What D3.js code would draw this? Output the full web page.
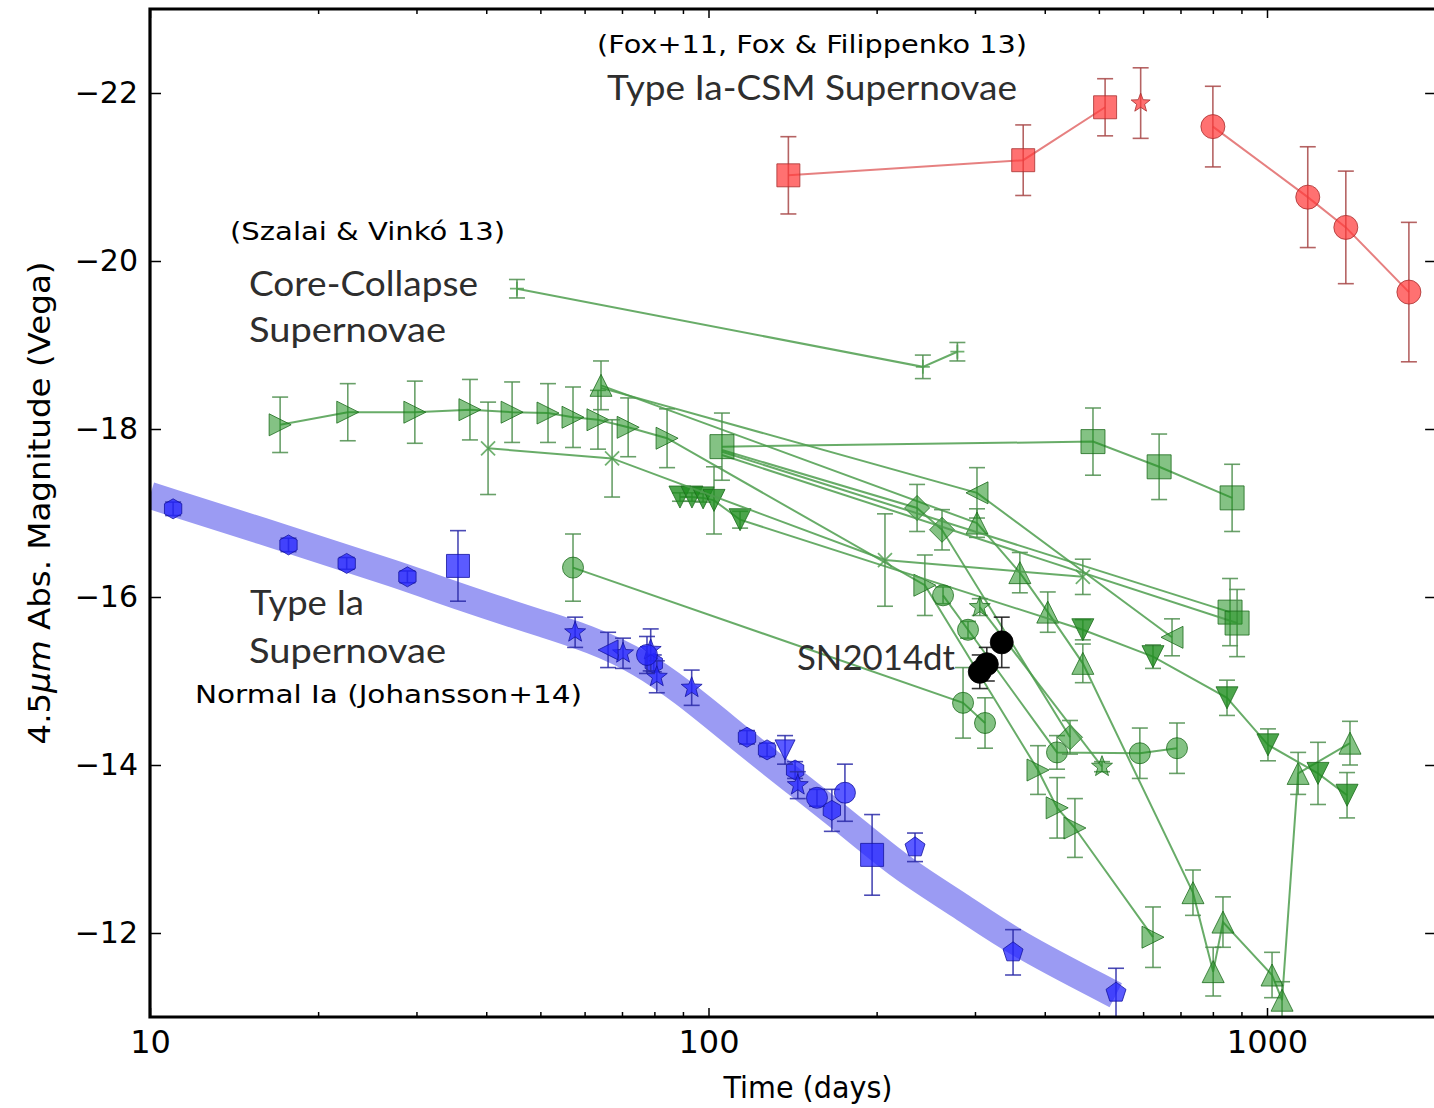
<!DOCTYPE html>
<html>
<head>
<meta charset="utf-8">
<script src="https://cdn.jsdelivr.net/npm/d3@7"></script>
<style>
  body { margin: 0; background: #fff; }
  svg { display: block; }
</style>
</head>
<body>
<div id="chart"></div>
<script>
// ---- data: [days, magnitude, error]; error null = line anchor only, no marker ----
const xTicks = [10, 100, 1000];
const yTicks = [-22, -20, -18, -16, -14, -12];

// Type Ia-CSM (Fox+11, Fox & Filippenko 13)
const csmSquares = [[139, -21.02, 0.46], [366, -21.20, 0.42], [513, -21.83, 0.34]];
const csmStar = [[594, -21.88, 0.42]];
const csmCircles = [[800, -21.60, 0.48], [1183, -20.76, 0.60], [1384, -20.40, 0.67], [1795, -19.63, 0.83]];

// core-collapse (Szalai & Vinko 13)
const ccPlus = [[45.4, -19.67, 0.11], [242, -18.74, 0.14], [279, -18.92, 0.11]];
const ccRightTri = [[17.1, -18.05, 0.33], [22.6, -18.20, 0.34], [29.8, -18.20, 0.37], [37.4, -18.23, 0.36],
  [44.5, -18.20, 0.36], [51.6, -18.19, 0.35], [57.2, -18.14, 0.36], [63.4, -18.11, 0.35], [71.8, -18.02, 0.35],
  [84.3, -17.89, 0.35], [244, -16.14, 0.36], [389, -13.94, 0.29], [421, -13.49, 0.36], [453, -13.25, 0.35],
  [625, -11.95, 0.36]];
const ccUpTri = [[64.2, -18.52, 0.29], [302.5, -16.88, 0.17], [361, -16.29, 0.24], [405, -15.82, 0.24],
  [468, -15.21, 0.23], [737, -12.48, 0.27], [801, -11.54, 0.29], [834, -12.13, 0.30], [1021, -11.50, 0.27],
  [1064, -11.20, 0.22], [1137, -13.90, 0.25], [1408, -14.26, 0.26]];
const ccDownTri = [[88.9, -17.19, 0.05], [93.4, -17.19, 0.05], [97.8, -17.18, 0.05], [102.3, -17.15, 0.40],
  [113.9, -16.92, 0.10], [468, -15.61, 0.12], [625, -15.29, 0.14], [848, -14.80, 0.21], [1004, -14.24, 0.19],
  [1234, -13.90, 0.37], [1391, -13.64, 0.27]];
const ccCircle = [[57.2, -16.35, 0.40], [285.6, -14.74, 0.42], [312.7, -14.50, 0.30]];
const ccCircle2 = [[263, -16.02, 0.10], [291.5, -15.61, 0.10], [420.7, -14.15, 0.20], [592, -14.14, 0.30], [690, -14.20, 0.30]];
const ccDiamond = [[105.7, -17.75, null], [236.3, -17.06, 0.28], [261.9, -16.80, 0.24], [443.9, -14.33, 0.20]];
const ccLeftTri = [[64.2, -18.49, null], [302.5, -17.24, 0.30], [676, -15.52, 0.22]];
const ccCross = [[40.3, -17.77, 0.55], [67.2, -17.65, 0.46], [207, -16.44, 0.55], [468, -16.24, 0.21]];
const ccStar = [[306, -15.88, 0.10], [506.5, -13.98, 0.06]];
const ccSquare2 = [[105.7, -17.73, null], [858.7, -15.82, 0.40]];
const ccSquare3 = [[105.7, -17.69, null], [884, -15.69, 0.40]];
const ccSquare = [[105.7, -17.79, 0.40], [488, -17.85, 0.40], [641, -17.55, 0.39], [866, -17.18, 0.40]];

// normal Ia (Johansson+14)
const iaBandDays = [10, 17.8, 28, 35.9, 49.9, 75.6, 113.8, 172.2, 220.6, 282.6, 351, 536];
const iaBandMag = [-17.21, -16.68, -16.26, -16.0, -15.69, -15.31, -14.30, -13.38, -12.77, -12.33, -11.89, -11.26];
const iaHexagon = [[11.0, -17.05, 0.08], [17.7, -16.62, 0.08], [22.5, -16.40, 0.07], [28.9, -16.24, 0.07],
  [79.8, -15.21, 0.10], [117.2, -14.33, 0.08], [127.3, -14.18, 0.08], [142.9, -13.94, 0.10], [166.3, -13.46, 0.25]];
const iaSquare = [[35.6, -16.37, 0.42], [196.3, -12.93, 0.48]];
const iaStar = [[57.7, -15.58, 0.18], [70.3, -15.33, 0.18], [78.8, -15.37, 0.25], [80.8, -15.05, 0.19],
  [93.3, -14.92, 0.21], [144.5, -13.76, 0.16]];
const iaLeftTri = [[66.1, -15.37, 0.21]];
const iaCircle = [[77.6, -15.31, 0.22], [156.4, -13.61, 0.10], [175.5, -13.67, 0.34]];
const iaDownTri = [[137.1, -14.18, 0.17]];
const iaPentagon = [[234.3, -13.02, 0.17], [351, -11.77, 0.27], [536.6, -11.29, 0.29]];

// SN2014dt
const sn2014dt = [[306, -15.11, 0.20], [315, -15.20, 0.20], [335, -15.46, 0.30]];

// ---- layout ----
const W = 1434, H = 1108;
const x = d3.scaleLog().domain([10, 2000]).range([150, 150 + 558.5 * Math.log10(200)]);
const y = d3.scaleLinear().domain([-23, -11]).range([9, 1017]);
const [x0, x1] = x.range();
const [y0, y1] = y.range();

const svg = d3.select("#chart").append("svg")
  .attr("width", W).attr("height", H)
  .style("font-family", "'DejaVu Sans', sans-serif");

svg.append("defs").append("clipPath").attr("id", "plotclip")
  .append("rect").attr("x", x0).attr("y", y0).attr("width", x1 - x0).attr("height", y1 - y0);

const plot = svg.append("g").attr("clip-path", "url(#plotclip)");

// marker shapes
const poly = pts => "M" + pts.map(p => p.join(",")).join("L") + "Z";
const shapes = {
  square: r => poly([[-r, -r], [r, -r], [r, r], [-r, r]]),
  diamond: r => poly([[0, -r], [r, 0], [0, r], [-r, 0]]),
  triUp: r => poly([[0, -r], [r, r], [-r, r]]),
  triDown: r => poly([[0, r], [r, -r], [-r, -r]]),
  triLeft: r => poly([[-r, 0], [r, -r], [r, r]]),
  triRight: r => poly([[r, 0], [-r, -r], [-r, r]]),
  hexagon: r => poly(d3.range(6).map(i => [r * Math.sin(i * Math.PI / 3), -r * Math.cos(i * Math.PI / 3)])),
  pentagon: r => poly(d3.range(5).map(i => [r * Math.sin(i * 2 * Math.PI / 5), -r * Math.cos(i * 2 * Math.PI / 5)])),
  star: r => poly(d3.range(10).map(i => {
    const rr = i % 2 ? r * 0.42 : r, a = i * Math.PI / 5;
    return [rr * Math.sin(a), -rr * Math.cos(a)];
  })),
  circle: r => `M${r},0A${r},${r} 0 1,1 ${-r},0A${r},${r} 0 1,1 ${r},0Z`,
  plus: r => `M${-r},0H${r}M0,${-r}V${r}`,
  cross: r => `M${-r},${-r}L${r},${r}M${-r},${r}L${r},${-r}`
};

const line = d3.line().x(d => x(d[0])).y(d => y(d[1]));

function drawSeries(data, opt) {
  const g = plot.append("g");
  const pts = data.filter(d => d[2] !== null);
  if (opt.connect) {
    g.append("path").datum(data).attr("d", line)
      .attr("fill", "none").attr("stroke", opt.lineColor)
      .attr("stroke-width", 2).attr("stroke-opacity", opt.lineOpacity || 0.85);
  }
  const eb = g.selectAll(".eb").data(pts.filter(d => d[2] > 0)).join("g")
    .attr("stroke", opt.errColor).attr("stroke-width", 1.6).attr("stroke-opacity", 0.85);
  eb.append("line").attr("x1", d => x(d[0])).attr("x2", d => x(d[0]))
    .attr("y1", d => y(d[1] - d[2])).attr("y2", d => y(d[1] + d[2]));
  [-1, 1].forEach(s => {
    eb.append("line").attr("x1", d => x(d[0]) - 8).attr("x2", d => x(d[0]) + 8)
      .attr("y1", d => y(d[1] + s * d[2])).attr("y2", d => y(d[1] + s * d[2]));
  });
  const thin = opt.shape === "plus" || opt.shape === "cross";
  g.selectAll(".mk").data(pts).join("path")
    .attr("transform", d => `translate(${x(d[0])},${y(d[1])})`)
    .attr("d", shapes[opt.shape](opt.size))
    .attr("fill", thin ? "none" : opt.fill)
    .attr("fill-opacity", opt.fillOpacity)
    .attr("stroke", thin ? opt.lineColor : opt.edge)
    .attr("stroke-width", thin ? 1.8 : 1)
    .attr("stroke-opacity", 0.8);
}

// ---- red: Ia-CSM ----
const red = { lineColor: "#e26a6a", errColor: "#a84848", fill: "#ff3a3a", edge: "#a83030", fillOpacity: 0.72 };
drawSeries(csmSquares, { ...red, connect: true, shape: "square", size: 11.5 });
drawSeries(csmStar, { ...red, shape: "star", size: 10 });
drawSeries(csmCircles, { ...red, connect: true, shape: "circle", size: 12 });

// ---- green: core-collapse ----
const green = { lineColor: "#4d9e4d", errColor: "#4f8f4f", fill: "#1f8f1f", edge: "#1d6b1d", fillOpacity: 0.55, connect: true };
drawSeries(ccPlus, { ...green, shape: "plus", size: 7 });
drawSeries(ccRightTri, { ...green, shape: "triRight", size: 11 });
drawSeries(ccLeftTri, { ...green, shape: "triLeft", size: 11 });
drawSeries(ccUpTri, { ...green, shape: "triUp", size: 11 });
drawSeries(ccDownTri, { ...green, shape: "triDown", size: 11, fillOpacity: 0.8 });
drawSeries(ccCircle, { ...green, shape: "circle", size: 10.5 });
drawSeries(ccCircle2, { ...green, shape: "circle", size: 10.5 });
drawSeries(ccDiamond, { ...green, shape: "diamond", size: 12.5 });
drawSeries(ccCross, { ...green, shape: "cross", size: 7 });
drawSeries(ccStar, { ...green, shape: "star", size: 11 });
drawSeries(ccSquare2, { ...green, shape: "square", size: 12 });
drawSeries(ccSquare3, { ...green, shape: "square", size: 12 });
drawSeries(ccSquare, { ...green, shape: "square", size: 12 });

// ---- blue: normal Ia ----
const band = iaBandDays.map((d, i) => [d, iaBandMag[i]]);
plot.append("path").datum(band)
  .attr("d", d3.line().x(d => x(d[0])).y(d => y(d[1])).curve(d3.curveBasis))
  .attr("fill", "none").attr("stroke", "#9b9bf3").attr("stroke-width", 27)
  .attr("stroke-linecap", "butt").attr("stroke-linejoin", "round");

const blue = { lineColor: "#3030c0", errColor: "#2a2aa8", fill: "#2424ff", edge: "#1414a0", fillOpacity: 0.75 };
drawSeries(iaHexagon, { ...blue, shape: "hexagon", size: 10 });
drawSeries(iaSquare, { ...blue, shape: "square", size: 11.5 });
drawSeries(iaStar, { ...blue, shape: "star", size: 11 });
drawSeries(iaLeftTri, { ...blue, shape: "triLeft", size: 10 });
drawSeries(iaCircle, { ...blue, shape: "circle", size: 10.5 });
drawSeries(iaDownTri, { ...blue, shape: "triDown", size: 10 });
drawSeries(iaPentagon, { ...blue, shape: "pentagon", size: 10.5 });

// ---- black: SN2014dt ----
drawSeries(sn2014dt, { lineColor: "#000", errColor: "#111", fill: "#000", edge: "#000", fillOpacity: 1, shape: "circle", size: 11.5 });

// ---- axes ----
const xMinor = [20, 30, 40, 50, 60, 70, 80, 90, 200, 300, 400, 500, 600, 700, 800, 900, 2000];
function styleAxis(g, fs) {
  g.select(".domain").remove();
  g.selectAll(".tick line").attr("stroke", "#000").attr("stroke-width", 1.5);
  g.selectAll("text").attr("font-size", fs).attr("fill", "#000").attr("font-family", "'DejaVu Sans', sans-serif");
}
svg.append("g").attr("transform", `translate(0,${y1})`)
  .call(d3.axisBottom(x).tickValues(xTicks).tickFormat(d3.format("d")).tickSize(-9).tickPadding(13))
  .call(g => styleAxis(g, 32));
svg.append("g").attr("transform", `translate(0,${y1})`)
  .call(d3.axisBottom(x).tickValues(xMinor).tickFormat("").tickSize(-5))
  .call(g => styleAxis(g, 0));
svg.append("g").attr("transform", `translate(0,${y0})`)
  .call(d3.axisTop(x).tickValues(xTicks).tickFormat("").tickSize(-9))
  .call(g => styleAxis(g, 0));
svg.append("g").attr("transform", `translate(0,${y0})`)
  .call(d3.axisTop(x).tickValues(xMinor).tickFormat("").tickSize(-5))
  .call(g => styleAxis(g, 0));
svg.append("g").attr("transform", `translate(${x0},0)`)
  .call(d3.axisLeft(y).tickValues(yTicks).tickFormat(d3.format("d")).tickSize(-11).tickPadding(12))
  .call(g => styleAxis(g, 30));
svg.append("g").attr("transform", `translate(${x1},0)`)
  .call(d3.axisRight(y).tickValues(yTicks).tickFormat("").tickSize(-10))
  .call(g => styleAxis(g, 0));

// frame: top, left, bottom (right edge falls outside the picture)
svg.append("path")
  .attr("d", `M${W + 5},${y0}H${x0}V${y1}H${W + 5}`)
  .attr("fill", "none").attr("stroke", "#000").attr("stroke-width", 3.2);

// axis titles
svg.append("text").attr("x", 808).attr("y", 1098).attr("text-anchor", "middle")
  .attr("font-size", 31).attr("textLength", 169).attr("lengthAdjust", "spacingAndGlyphs")
  .text("Time (days)");
const yl = svg.append("text").attr("transform", "translate(50,503) rotate(-90)")
  .attr("text-anchor", "middle").attr("font-size", 31)
  .attr("textLength", 483).attr("lengthAdjust", "spacingAndGlyphs");
yl.append("tspan").text("4.5");
yl.append("tspan").attr("font-style", "italic").text("μm");
yl.append("tspan").text(" Abs. Magnitude (Vega)");

// annotations
const notes = [
  { t: "(Fox+11, Fox & Filippenko 13)", x: 597, y: 53, w: 430, kind: "hand" },
  { t: "Type Ia-CSM Supernovae", x: 607, y: 100, w: 410, kind: "label" },
  { t: "(Szalai & Vinkó 13)", x: 230, y: 240, w: 275, kind: "hand" },
  { t: "Core-Collapse", x: 249, y: 296, w: 229, kind: "label" },
  { t: "Supernovae", x: 249, y: 342, w: 197, kind: "label" },
  { t: "Type Ia", x: 250, y: 615, w: 114, kind: "label" },
  { t: "Supernovae", x: 249, y: 663, w: 197, kind: "label" },
  { t: "Normal Ia (Johansson+14)", x: 195, y: 703, w: 387, kind: "hand" },
  { t: "SN2014dt", x: 797, y: 670, w: 158, kind: "label" }
];
svg.selectAll(".note").data(notes).join("text")
  .attr("x", d => d.x).attr("y", d => d.y)
  .attr("textLength", d => d.w).attr("lengthAdjust", "spacingAndGlyphs")
  .attr("font-family", d => d.kind === "hand" ? "'Comic Sans MS', 'DejaVu Sans', sans-serif" : "Lato, 'Open Sans', sans-serif")
  .attr("font-size", d => d.kind === "hand" ? 25 : 34)
  .attr("fill", d => d.kind === "hand" ? "#000" : "#2e2e2e")
  .text(d => d.t);
</script>
</body>
</html>
